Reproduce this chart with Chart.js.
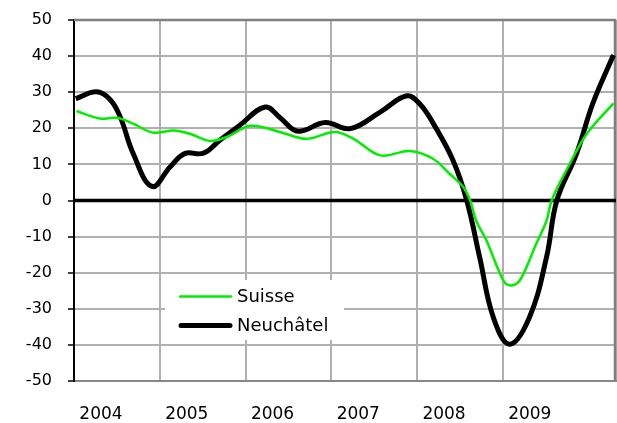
<!DOCTYPE html>
<html>
<head>
<meta charset="utf-8">
<script src="https://cdn.jsdelivr.net/npm/chart.js@4"></script>
<style>
  body { margin: 0; background: #fff; }
  canvas { display: block; }
</style>
</head>
<body>
<canvas id="chart" width="617" height="423"></canvas>
<script>
const yearLabels = ['2004', '2005', '2006', '2007', '2008', '2009'];

const neuchatelX = [2004.02, 2004.26, 2004.42, 2004.54, 2004.69, 2004.91, 2005.12, 2005.29, 2005.51, 2005.70,
  2005.93, 2006.23, 2006.40, 2006.61, 2006.93, 2007.22, 2007.57, 2007.88, 2008.03, 2008.19,
  2008.42, 2008.58, 2008.73, 2008.89, 2009.08, 2009.31, 2009.51, 2009.63, 2009.86, 2010.05, 2010.29];
const neuchatelY = [28.2, 30.1, 28.0, 23.1, 13.0, 3.9, 9.3, 13.0, 13.1, 16.7,
  20.8, 25.9, 23.0, 19.2, 21.6, 19.9, 24.5, 29.0, 26.8, 21.3,
  11.1, 0, -15.7, -32.4, -39.8, -32.4, -15.7, 0, 13.0, 26.9, 40.3];

const suisseX = [2004.03, 2004.30, 2004.50, 2004.69, 2004.92, 2005.16, 2005.35, 2005.59, 2005.78, 2006.06,
  2006.40, 2006.71, 2007.04, 2007.26, 2007.57, 2007.92, 2008.19, 2008.38, 2008.54, 2008.62,
  2008.69, 2008.81, 2008.97, 2009.04, 2009.14, 2009.22, 2009.39, 2009.51, 2009.57, 2009.74, 2009.98, 2010.29];
const suisseY = [24.8, 22.7, 22.9, 21.3, 18.8, 19.4, 18.5, 16.5, 17.6, 20.7,
  19.0, 17.1, 19.0, 17.1, 12.5, 13.7, 11.5, 7.4, 3.7, 0,
  -5.6, -11.1, -20.4, -23.1, -23.3, -21.3, -12.0, -5.6, 0, 8.3, 18.5, 26.9];

const toPoints = (xs, ys) => xs.map((x, i) => ({ x: x, y: ys[i] }));

// frame (top/right), zero line and the legend box inside the plot
const insideLegend = {
  id: 'insideLegend',
  beforeDatasetsDraw(chart) {
    const c = chart.ctx;
    const a = chart.chartArea;
    const y0 = chart.scales.y.getPixelForValue(0);
    c.save();
    c.strokeStyle = '#7f7f7f';
    c.lineWidth = 2.5;
    c.beginPath();
    c.moveTo(a.left, a.top); c.lineTo(a.right - 1, a.top); c.lineTo(a.right - 1, a.bottom);
    c.stroke();
    c.strokeStyle = '#000';
    c.lineWidth = 3.5;
    c.beginPath(); c.moveTo(a.left, y0); c.lineTo(a.right, y0); c.stroke();

    c.fillStyle = '#fff';
    c.fillRect(165, 280, 179, 60);
    c.lineCap = 'round';
    c.strokeStyle = '#00ee00';
    c.lineWidth = 2.5;
    c.beginPath(); c.moveTo(180, 296.5); c.lineTo(231, 296.5); c.stroke();
    c.strokeStyle = '#000';
    c.lineWidth = 5;
    c.beginPath(); c.moveTo(181, 325.5); c.lineTo(230, 325.5); c.stroke();
    c.fillStyle = '#000';
    c.font = '18px "DejaVu Sans"';
    c.textBaseline = 'middle';
    c.fillText('Suisse', 237, 297);
    c.fillText('Neuchâtel', 237, 326);
    c.restore();
  }
};

new Chart(document.getElementById('chart').getContext('2d'), {
  type: 'line',
  data: {
    datasets: [{
      label: 'Suisse',
      data: toPoints(suisseX, suisseY),
      borderColor: '#00ee00',
      borderWidth: 2.5,
      pointRadius: 0,
      tension: 0.35
    }, {
      label: 'Neuchâtel',
      data: toPoints(neuchatelX, neuchatelY),
      borderColor: '#000',
      borderWidth: 5,
      pointRadius: 0,
      tension: 0.4
    }]
  },
  options: {
    responsive: false,
    animation: false,
    layout: { padding: { top: 20, right: 1, left: 0, bottom: 0 } },
    plugins: { legend: { display: false }, tooltip: { enabled: false } },
    scales: {
      x: {
        type: 'linear',
        min: 2004,
        max: 2010.32,
        afterFit: (s) => { s.height = 42; s.paddingLeft = 0; s.paddingRight = 0; },
        border: { color: '#888', width: 2 },
        grid: {
          drawTicks: false,
          color: '#b0b0b0',
          lineWidth: 2
        },
        ticks: {
          stepSize: 1,
          autoSkip: false,
          maxRotation: 0,
          padding: 23,
          labelOffset: 27,
          color: '#000',
          font: { family: 'DejaVu Sans', size: 17 },
          callback: (v) => Number.isInteger(v) && yearLabels[v - 2004] ? yearLabels[v - 2004] : ''
        }
      },
      y: {
        min: -50,
        max: 50,
        afterFit: (s) => { s.width = 74; s.paddingTop = 0; s.paddingBottom = 0; },
        border: { color: '#000', width: 2 },
        grid: {
          tickLength: 6,
          tickColor: '#000',
          tickWidth: 1.5,
          color: '#b0b0b0',
          lineWidth: 2
        },
        ticks: {
          stepSize: 10,
          padding: 16,
          color: '#000',
          font: { family: 'DejaVu Sans', size: 16 }
        }
      }
    }
  },
  plugins: [insideLegend]
});
</script>
</body>
</html>
